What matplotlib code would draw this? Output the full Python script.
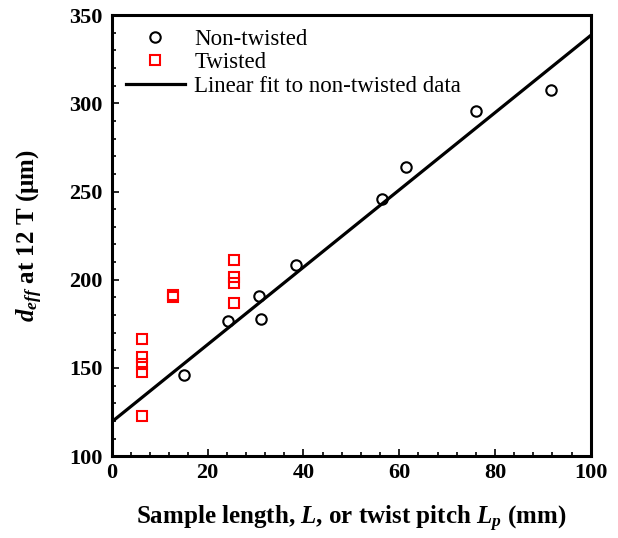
import matplotlib.pyplot as plt
from matplotlib.ticker import MultipleLocator

plt.rcParams["font.family"] = ["Liberation Serif", "DejaVu Serif"]
plt.rcParams["mathtext.fontset"] = "custom"
plt.rcParams["mathtext.rm"] = "Liberation Serif:bold"
plt.rcParams["mathtext.it"] = "Liberation Serif:italic:bold"
plt.rcParams["mathtext.bf"] = "Liberation Serif:bold"

# Non-twisted samples (length L, d_eff)
nt_x = [15.0, 24.3, 31.1, 30.8, 38.4, 56.3, 61.4, 76.1, 91.6]
nt_y = [146.3, 176.7, 178.0, 190.9, 208.1, 245.9, 264.0, 295.7, 307.5]

# Twisted samples (twist pitch Lp, d_eff)
tw_x = [6.3, 6.3, 6.3, 6.3, 6.3, 12.7, 12.7, 25.4, 25.4, 25.4, 25.4]
tw_y = [166.2, 156.0, 152.5, 147.8, 122.9, 190.2, 191.2, 211.1, 201.3, 197.9, 186.9]

# Linear fit to non-twisted data (end points)
fit_x = [0, 100]
fit_y = [119.5, 338.5]

fig = plt.figure(figsize=(6.18, 5.38), dpi=100)
ax = fig.add_axes([0.181, 0.152, 0.775, 0.820])

ax.plot(nt_x, nt_y, linestyle="none", marker="o", markersize=7.5,
        markerfacecolor="none", markeredgecolor="black", markeredgewidth=1.5,
        label="Non-twisted")
ax.plot(tw_x, tw_y, linestyle="none", marker="s", markersize=7,
        markerfacecolor="none", markeredgecolor="red", markeredgewidth=1.5,
        label="Twisted")
ax.plot(fit_x, fit_y, color="black", linewidth=2.3,
        label="Linear fit to non-twisted data")

ax.set_xlim(0, 100)
ax.set_ylim(100, 350)
ax.xaxis.set_major_locator(MultipleLocator(20))
ax.xaxis.set_minor_locator(MultipleLocator(4))
ax.yaxis.set_major_locator(MultipleLocator(50))
ax.yaxis.set_minor_locator(MultipleLocator(10))
ax.tick_params(which="both", direction="in", top=False, right=False,
               width=1.2, labelsize=16, pad=7)
ax.tick_params(axis="x", pad=5)
ax.tick_params(which="major", length=5)
ax.tick_params(which="minor", length=3)
for lab in ax.get_xticklabels() + ax.get_yticklabels():
    lab.set_fontweight("bold")
for s in ax.spines.values():
    s.set_linewidth(2.2)

ax.set_xlabel(r"Sample length, $L$, or twist pitch $L_p$ (mm)",
              fontsize=18, fontweight="bold", labelpad=15)
ax.set_ylabel(r"$d_{eff}$ at 12 T ($\mathrm{\mu}$m)",
              fontsize=18, fontweight="bold", labelpad=17)

leg = ax.legend(loc="upper left", frameon=False, fontsize=16.5,
                handlelength=2.6, borderaxespad=0.2, labelspacing=0.1,
                handletextpad=0.4, bbox_to_anchor=(0.0, 1.0))

fig.savefig("out.png", dpi=100)
